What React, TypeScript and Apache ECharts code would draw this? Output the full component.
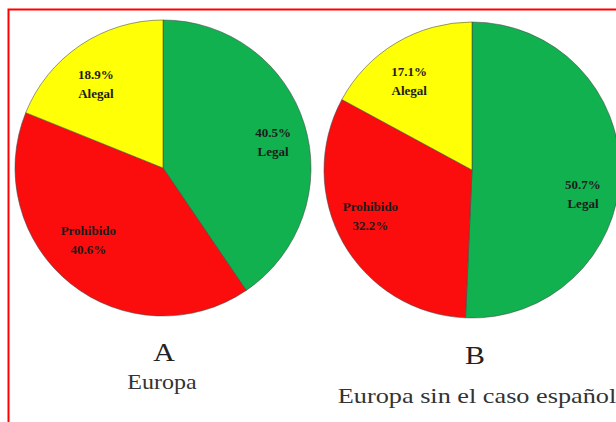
import React, { useEffect, useRef } from "react";
import * as echarts from "echarts";

const categories = ["Legal", "Prohibido", "Alegal"];
const valuesA = [40.5, 40.6, 18.9];
const valuesB = [50.7, 32.2, 17.1];
const colors = ["#12b14f", "#fb0d0d", "#ffff05"];
const panelLetters = ["A", "B"];
const panelNames = ["Europa", "Europa sin el caso español"];

// label nudges (style only)
const labelOffsets = [
  [[4, 7], [-5, -14], [-5, 8]],
  [[0, 22], [-5, -9], [-6, 6]],
];

function labelText(name: string, value: number) {
  const pct = value.toFixed(1) + "%";
  return name === "Prohibido" ? `${name}\n${pct}` : `${pct}\n${name}`;
}

export default function App() {
  const ref = useRef<HTMLDivElement>(null);
  useEffect(() => {
    document.body.style.margin = "0";
    const chart = echarts.init(ref.current!, null, { renderer: "svg" });
    const centers = [[163, 168], [472, 170]];
    const series: any[] = [];
    [valuesA, valuesB].forEach((vals, k) => {
      series.push({
        type: "pie",
        center: centers[k],
        radius: [0, 148],
        startAngle: 90,
        clockwise: true,
        silent: true,
        label: { show: false },
        labelLine: { show: false },
        itemStyle: { borderColor: "rgba(70,70,70,0.55)", borderWidth: 1 },
        data: categories.map((c, i) => ({ name: c, value: vals[i], itemStyle: { color: colors[i] } })),
      });
      series.push({
        type: "pie",
        center: centers[k],
        radius: [68, 148],
        startAngle: 90,
        clockwise: true,
        silent: true,
        itemStyle: { color: "transparent" },
        label: {
          show: true,
          position: "inside",
          formatter: (p: any) => labelText(p.name, p.value),
          fontFamily: "Liberation Serif",
          fontWeight: "bold",
          fontSize: 13,
          lineHeight: 19,
          color: "#1b1b1b",
        },
        labelLine: { show: false },
        data: categories.map((c, i) => ({
          name: c,
          value: vals[i],
          itemStyle: { color: "transparent" },
          label: { offset: labelOffsets[k][i] },
        })),
      });
    });
    const txt = (text: string, x: number, y: number, size: number, sx: number, fill: string) => ({
      type: "text",
      x,
      y,
      scaleX: sx,
      style: {
        text,
        fontFamily: "Liberation Serif",
        fontSize: size,
        fill,
        align: "center",
        verticalAlign: "middle",
      },
    });
    chart.setOption({
      animation: false,
      backgroundColor: "#ffffff",
      series,
      graphic: [
        {
          type: "rect",
          shape: { x: 8.5, y: 9.5, width: 700, height: 500 },
          style: { fill: "none", stroke: "#ff0000", lineWidth: 2 },
          z: 10,
        },
        txt(panelLetters[0], 164, 352, 26, 1.15, "#222"),
        txt(panelNames[0], 162, 382, 20, 1.2, "#333"),
        txt(panelLetters[1], 475, 355, 26, 1.15, "#222"),
        txt(panelNames[1], 477, 396, 21, 1.25, "#333"),
      ],
    });
    return () => chart.dispose();
  }, []);
  return <div ref={ref} style={{ width: 616, height: 422 }} />;
}
